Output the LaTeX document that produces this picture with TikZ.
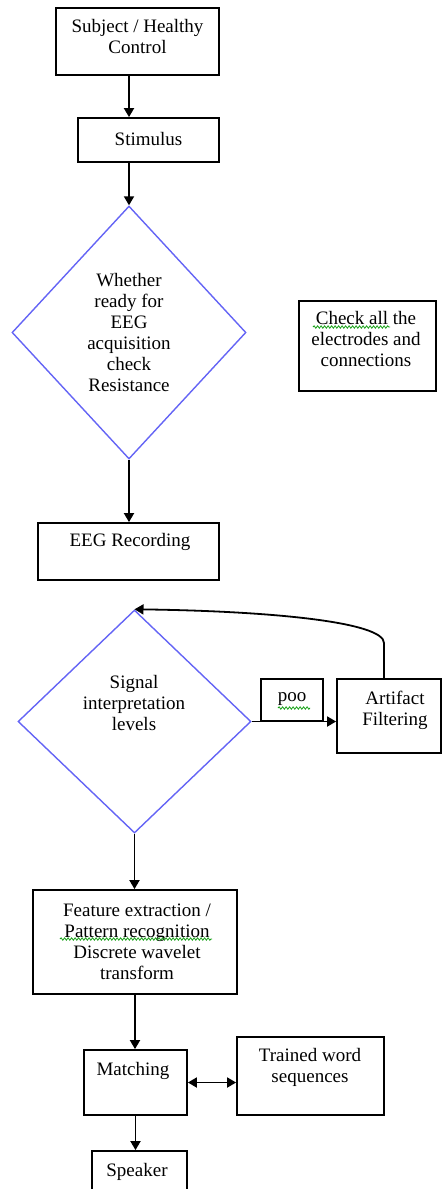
\documentclass[tikz,border=0pt]{standalone}
\usepackage{fontspec}
\setmainfont{Liberation Serif}
\newfontfamily\tnr{Liberation Serif}
\usetikzlibrary{shapes.geometric,arrows.meta,decorations.pathmorphing}
\definecolor{dblue}{RGB}{100,100,245}
\definecolor{sqgreen}{RGB}{20,160,20}
\begin{document}
\begin{tikzpicture}[x=1pt,y=-1pt,
  box/.style={draw=black,line width=1.8pt,inner sep=0pt},
  dia/.style={diamond,draw=dblue,line width=1.4pt,inner sep=0pt},
  txt/.style={align=center,inner sep=0pt,font=\tnr\fontsize{19}{21}\selectfont},
  arr/.style={draw=black,line width=1.8pt,-{Triangle[width=10pt,length=9pt]}},
  darr/.style={draw=black,line width=1.8pt,{Triangle[width=10pt,length=9pt]}-{Triangle[width=10pt,length=9pt]}},
  squig/.style={draw=sqgreen,line width=0.8pt,decorate,decoration={snake,amplitude=1.2pt,segment length=3.5pt}}]
\useasboundingbox (0,0) rectangle (443,1189);
\clip (0,0) rectangle (443,1189);
% boxes
\node[box,minimum width=163pt,minimum height=67pt] (subj) at (137.5,41.5) {};
\node[txt] (tsubj) at (137.5,36) {Subject / Healthy\\Control};
\node[box,minimum width=141pt,minimum height=44pt] (stim) at (148.5,140) {};
\node[txt] (tstim) at (148.5,139) {Stimulus};
\node[dia,minimum width=234pt,minimum height=253pt] (d1) at (129,332.5) {};
\node[txt] (td1) at (129,332) {Whether\\ready for\\EEG\\acquisition\\check\\Resistance};
\node[box,minimum width=137pt,minimum height=90pt] (chk) at (367.5,346) {};
\node[txt] (tchk) at (366,339) {Check all the\\electrodes and\\connections};
\node[box,minimum width=181pt,minimum height=57pt] (eeg) at (128.5,551.5) {};
\node[txt] (teeg) at (130,542) {EEG Recording};
\node[dia,minimum width=233pt,minimum height=223pt] (d2) at (134.5,721.5) {};
\node[txt] (td2) at (134,703) {Signal\\interpretation\\levels};
\node[box,minimum width=62pt,minimum height=42pt] (poo) at (292,700) {};
\node[txt] (tpoo) at (292,699) {poo};
\node[box,minimum width=104pt,minimum height=74pt] (art) at (389,716) {};
\node[txt] (tart) at (395,710) {Artifact\\Filtering};
\node[box,minimum width=204pt,minimum height=104pt] (feat) at (135,942) {};
\node[txt] (tfeat) at (137,941.5) {Feature extraction /\\Pattern recognition\\Discrete wavelet\\transform};
\node[box,minimum width=103pt,minimum height=65pt] (match) at (135.5,1082.5) {};
\node[txt] (tmatch) at (133,1071) {Matching};
\node[box,minimum width=147pt,minimum height=78pt] (tr) at (310.5,1076) {};
\node[txt] (ttr) at (310,1067) {Trained word\\sequences};
\node[box,minimum width=95pt,minimum height=49pt] (spk) at (139.5,1175.5) {};
\node[txt] (tspk) at (137,1172) {Speaker};
% squiggles
\draw[squig] (313,327) -- (390,327);
\draw[squig] (278,708) -- (310,708);
\draw[squig] (60,939) -- (212,939);
% connectors
\draw[arr] (d1.north |- subj.south) -- (d1.north |- stim.north);
\draw[arr] (d1.north |- stim.south) -- (d1.north);
\draw[arr] (d1.south) -- (d1.south |- eeg.north);
\draw[arr] (d2.east) -- (d2.east -| art.west);
\draw[arr] ([xshift=-5pt]art.north) -- (384,643) .. controls (384,622) and (270,611) .. (d2.north);
\draw[arr] (d2.south) -- (d2.south |- feat.north);
\draw[arr] (feat.south) -- (feat.south |- match.north);
\draw[darr] (match.east) -- (match.east -| tr.west);
\draw[arr] (match.south) -- (match.south |- spk.north);
\end{tikzpicture}
\end{document}
